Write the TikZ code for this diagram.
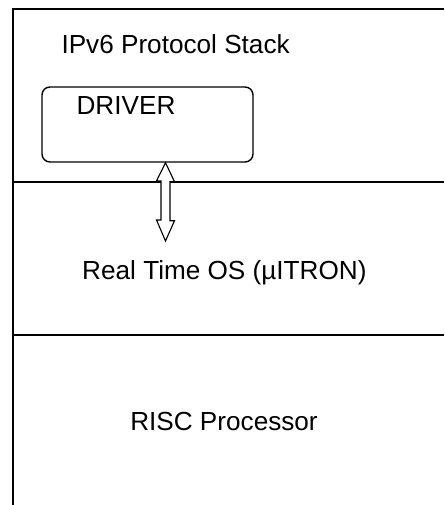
\documentclass[tikz,border=0pt]{standalone}
\usepackage{fontspec}
\setmainfont{Liberation Sans}
\usepackage{tikz}
\usetikzlibrary{positioning}

\tikzset{
	layer/.style={line width=1.3pt},
	label text/.style={font=\fontsize{18.6}{22}\selectfont, inner sep=0pt},
	driverbox/.style={draw, line width=1pt, rounded corners=0.2cm, minimum width=5.275cm, minimum height=1.875cm, inner sep=0pt}
}

\begin{document}
\begin{tikzpicture}
	\useasboundingbox (0, 0) rectangle (11.1, 12.625);
	% Layers:
	\draw[layer] (0.325, 0) -- (0.325, 12.4) -- (11.1, 12.4);
	\draw[layer] (0.325, 8.075) -- (11.1, 8.075);
	\draw[layer] (0.325, 4.25) -- (11.1, 4.25);
	% Nodes and texts:
	\node[label text](N1) at (4.39, 11.525){IPv6 Protocol Stack};
	\node[driverbox](N2) at (3.6875, 9.5125){};
	\node[label text](N3) at (3.15, 9.975){DRIVER};
	\node[label text](N4) at (5.61, 5.81){Real Time OS (µITRON)};
	\node[label text](N5) at (5.6, 2.1){RISC Processor};
	% Link driver <-> OS:
	\coordinate (T1) at (N2.south -| 4.1375, 0);
	\coordinate (T2) at (4.1375, 6.6);
	\draw[line width=0.8pt, fill=white] (T1) -- ++(0.225, -0.475) -- ++(-0.1125, 0) -- ++(0, -0.975) -- ++(0.1125, 0) -- (T2) -- ++(-0.225, 0.525) -- ++(0.1125, 0) -- ++(0, 0.975) -- ++(-0.1125, 0) -- cycle;
\end{tikzpicture}
\end{document}
